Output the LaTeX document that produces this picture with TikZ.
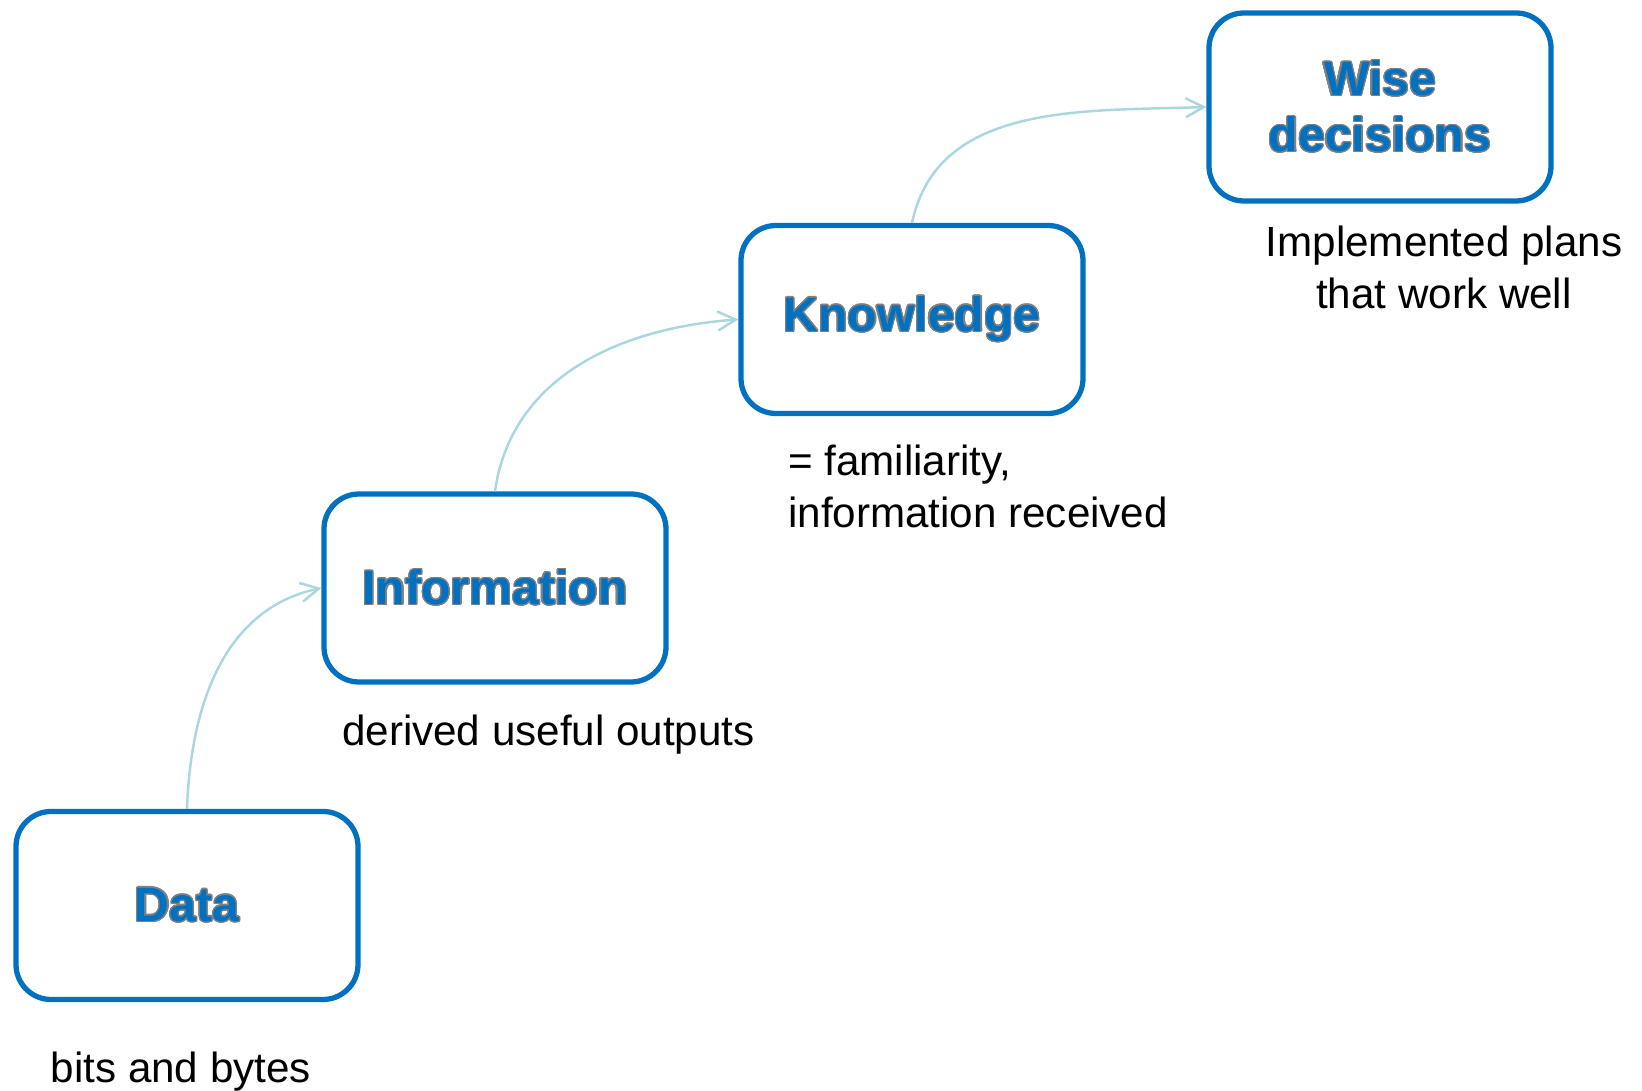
\documentclass[tikz,border=0pt]{standalone}
\usepackage{fontspec}
\setmainfont{Liberation Sans}
\usepackage[copies]{contour}
\usetikzlibrary{positioning,arrows.meta}

\definecolor{stageblue}{RGB}{0,112,192}
\definecolor{rimgray}{RGB}{128,128,128}
\definecolor{linkcyan}{RGB}{170,215,222}
\contourlength{0.35pt}
\contournumber{24}
\newcommand{\stagetitle}[1]{\contour{rimgray}{#1}}

\tikzset{
  stage/.style={draw=stageblue, line width=1.5pt, rounded corners=0.35cm,
    minimum width=3.42cm, minimum height=1.88cm, align=center,
    text=stageblue, font=\fontsize{13.7}{16}\selectfont\bfseries},
  note/.style={inner sep=0pt, font=\fontsize{12}{14.8}\selectfont},
  link/.style={draw=linkcyan, line width=0.7pt,
    -{Straight Barb[length=1.8mm,width=1.9mm]}},
}

\begin{document}
\begin{tikzpicture}
  \useasboundingbox (0,0) rectangle (16.42,10.91);
  % the four steps, centre to centre
  \node[stage] (data) at (1.87,1.855) {\stagetitle{Data}};
  \node[stage, on grid, above right=3.175cm and 3.08cm of data] (info) {\stagetitle{Information}};
  \node[stage, on grid, above right=2.685cm and 4.17cm of info] (know) {\stagetitle{Knowledge}};
  \node[stage, on grid, above right=2.125cm and 4.68cm of know] (wise) {\stagetitle{Wise}\\\stagetitle{decisions}};
  % what each step means
  \node[note, anchor=base west] (bits) at (0.50,0.08) {bits and bytes};
  \node[note, anchor=base west] (derived) at (3.414,3.455) {derived useful outputs};
  \node[note, anchor=north west, align=left] (familiar) at (7.875,6.47) {= familiarity,\\information received};
  \node[note, anchor=north, align=center] (plans) at (14.44,8.66) {Implemented plans\\that work well};
  % links
  \draw[link] (data.north) to[out=88, in=192] (info.west);
  \draw[link] (info.north) to[out=82, in=184] (know.west);
  \draw[link] (know.north) to[out=78, in=182] (wise.west);
\end{tikzpicture}
\end{document}
